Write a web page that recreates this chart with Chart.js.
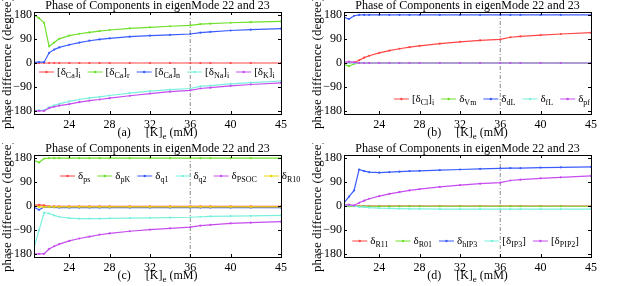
<!DOCTYPE html>
<html>
<head>
<meta charset="utf-8">
<script src="https://cdn.jsdelivr.net/npm/chart.js@4.4.0/dist/chart.umd.min.js"></script>
<style>
html, body { margin: 0; padding: 0; background: #fff; }
#wrap { position: relative; width: 621px; height: 286px; }
#wrap canvas { position: absolute; }
</style>
</head>
<body>
<div id="wrap">
  <canvas id="chartA" width="310" height="143" style="left:0;top:0"></canvas>
  <canvas id="chartB" width="310" height="143" style="left:310px;top:0"></canvas>
  <canvas id="chartC" width="310" height="143" style="left:0;top:143px"></canvas>
  <canvas id="chartD" width="310" height="143" style="left:310px;top:143px"></canvas>
</div>
<script>
// x values ([K]e in mM) and axis ticks
const kValues = [20.5, 21, 21.5, 22, 22.5, 23, 24, 25, 26, 27, 28, 30, 32, 34, 36, 37, 38, 40, 42, 45];
const xTickValues = [24, 28, 32, 36, 40, 45];
const yTickValues = [-180, -90, 0, 90, 180];
const markerK = 36;

const lineColors = ['#ff4646', '#6ee02a', '#3a5cff', '#7af0dc', '#c64cf0', '#ecd800'];
const chartTitle = 'Phase of Components in eigenMode 22 and 23';

// panel (a)
const namesA = ['[δ_{Ca}]_{i}', '[δ_{Ca}]_{r}', '[δ_{Ca}]_{n}', '[δ_{Na}]_{i}', '[δ_{K}]_{i}'];
const caI = [0, 0, 0, 0, 0, 0, 0, 0, 0, 0, 0, 0, 0, 0, 0, 0, 0, 0, 0, 0];
const caR = [180, 167, 150, 62, 76, 90, 102, 109, 114, 119, 123, 129, 133, 137, 140, 145, 147, 150, 152, 155];
const caN = [2, 3, 3, 38, 50, 58, 68, 76, 83, 88, 92, 98, 102, 105, 108, 113, 116, 121, 124, 128];
const naI = [-176, -176, -176, -165, -158, -152, -143, -136, -130, -126, -121, -112, -105, -99, -95, -87, -84, -78, -73, -67];
const kI = [-178, -178, -178, -168, -163, -159, -153, -146, -140, -136, -131, -122, -114, -107, -102, -95, -92, -85, -80, -74];

// panel (b)
const namesB = ['[δ_{Cl}]_{i}', 'δ_{Vm}', 'δ_{dL}', 'δ_{fL}', 'δ_{pf}'];
const clI = [0, 0, 2, 10, 20, 27, 38, 46, 53, 59, 64, 72, 79, 84, 88, 96, 99, 104, 108, 113];
const vm = [-5, -12, -3, 0, 0, 0, 0, 0, 0, 0, 0, 0, 0, 0, 0, 0, 0, 0, 0, 0];
const dL = [170, 164, 176, 179, 179, 179, 179, 179, 179, 179, 179, 179, 179, 179, 179, 179, 179, 179, 179, 179];
const fL = [0, 0, 0, 0, 0, 0, 0, 0, 0, 0, 0, 0, 0, 0, 0, 0, 0, 0, 0, 0];
const pf = [3, 5, 2, 0, 0, 0, 0, 0, 0, 0, 0, 0, 0, 0, 0, 0, 0, 0, 0, 0];

// panel (c)
const namesC = ['δ_{ps}', 'δ_{pK}', 'δ_{q1}', 'δ_{q2}', 'δ_{PSOC}', 'δ_{R10}'];
const ps = [2, 4, 2, -1, -1, -1, -1, -1, -1, -1, -1, -1, -1, -1, -1, -1, -1, -1, -1, -1];
const pK = [170, 162, 177, 178, 178, 178, 178, 178, 178, 178, 178, 178, 178, 178, 178, 178, 178, 178, 178, 178];
const q1 = [-5, -14, -4, -4, -5, -6, -6, -6, -6, -6, -6, -6, -6, -6, -6, -6, -6, -6, -6, -6];
const q2 = [-155, -90, -25, -28, -35, -40, -45, -47, -47, -47, -46, -45, -44, -43, -42, -40, -39, -38, -37, -35];
const psoc = [-178, -178, -178, -160, -150, -142, -130, -121, -114, -107, -102, -94, -88, -83, -79, -73, -70, -65, -62, -58];
const r10 = [0, -3, -3, -3, -3, -3, -3, -3, -3, -3, -3, -3, -3, -3, -3, -3, -3, -3, -3, -3];

// panel (d)
const namesD = ['δ_{R11}', 'δ_{R01}', 'δ_{hIP3}', '[δ_{IP3}]', '[δ_{PIP2}]'];
const r11 = [0, 0, 0, 0, 0, 0, 0, 0, 0, 0, 0, 0, 0, 0, 0, 0, 0, 0, 0, 0];
const r01 = [-1, -1, -1, -1, -1, -1, -1, -1, -1, -1, -1, -1, -1, -1, -1, -1, -1, -1, -1, -1];
const hIP3 = [12, 35, 58, 136, 130, 126, 124, 126, 128, 130, 131, 134, 136, 138, 140, 141, 141, 143, 144, 146];
const ip3 = [2, 2, 0, -3, -4, -6, -8, -9, -10, -11, -11, -12, -12, -12, -12, -12, -12, -12, -12, -12];
const pip2 = [3, 5, 2, 12, 20, 27, 37, 45, 52, 58, 63, 71, 78, 83, 87, 95, 98, 103, 107, 112];

const serif = '"Liberation Serif", "Times New Roman", serif';
Chart.defaults.font.family = serif;
Chart.defaults.color = '#000';

// split "x_{sub}" markup into normal / subscript pieces
function parseRich(str) {
    const parts = [];
    const re = /_\{([^}]*)\}|([^_]+)/g;
    let m;
    while ((m = re.exec(str)) !== null) {
        if (m[1] !== undefined) parts.push({ text: m[1], sub: true });
        else parts.push({ text: m[2], sub: false });
    }
    return parts;
}

function richWidth(ctx, parts, size, subSize) {
    let w = 0;
    parts.forEach(p => {
        ctx.font = `${p.sub ? subSize : size}px ${serif}`;
        w += ctx.measureText(p.text).width;
    });
    return w;
}

function drawRich(ctx, parts, x, y, size, subSize) {
    parts.forEach(p => {
        ctx.font = `${p.sub ? subSize : size}px ${serif}`;
        ctx.fillText(p.text, x, p.sub ? y + 3 : y);
        x += ctx.measureText(p.text).width;
    });
}

const matlabDecor = {
    id: 'matlabDecor',
    beforeDatasetsDraw(chart) {
        const { ctx, chartArea, scales } = chart;
        const px = scales.x.getPixelForValue(markerK);
        ctx.save();
        ctx.strokeStyle = '#8a8a8a';
        ctx.lineWidth = 1;
        ctx.setLineDash([4, 2, 1, 2]);
        ctx.beginPath();
        ctx.moveTo(px, chartArea.top);
        ctx.lineTo(px, chartArea.bottom);
        ctx.stroke();
        ctx.restore();
    },
    afterDraw(chart, args, opts) {
        const { ctx, chartArea: a, scales } = chart;
        ctx.save();
        // box and inward ticks
        ctx.strokeStyle = '#000';
        ctx.lineWidth = 1;
        ctx.strokeRect(a.left + 0.5, a.top + 0.5, a.right - a.left, a.bottom - a.top);
        ctx.beginPath();
        xTickValues.forEach(v => {
            const p = Math.round(scales.x.getPixelForValue(v)) + 0.5;
            ctx.moveTo(p, a.bottom); ctx.lineTo(p, a.bottom - 3);
            ctx.moveTo(p, a.top); ctx.lineTo(p, a.top + 3);
        });
        yTickValues.forEach(v => {
            const p = Math.round(scales.y.getPixelForValue(v)) + 0.5;
            ctx.moveTo(a.left, p); ctx.lineTo(a.left + 3, p);
            ctx.moveTo(a.right, p); ctx.lineTo(a.right - 3, p);
        });
        ctx.stroke();

        ctx.fillStyle = '#000';
        ctx.textBaseline = 'alphabetic';
        // title
        ctx.font = `12px ${serif}`;
        ctx.textAlign = 'center';
        ctx.fillText(chartTitle, (a.left + a.right) / 2, 9);

        // x label with panel tag
        ctx.textAlign = 'left';
        const xl = parseRich(opts.tag + '     [K]_{e} (mM)');
        const xw = richWidth(ctx, xl, 12, 9);
        drawRich(ctx, xl, (a.left + a.right) / 2 - xw / 2, 136, 12, 9);

        // legend
        const lp = opts.legendPos;
        const entries = opts.names.map(n => parseRich(n));
        const lineLen = 15, gapText = 3, gapEntry = 7;
        const widths = entries.map(e => lineLen + gapText + richWidth(ctx, e, 11, 8));
        const total = widths.reduce((s, w) => s + w, 0) + gapEntry * (entries.length - 1);
        let x = lp.align === 'right' ? lp.x - total : lp.x;
        entries.forEach((e, i) => {
            const col = lineColors[i];
            ctx.strokeStyle = col;
            ctx.fillStyle = col;
            ctx.beginPath();
            ctx.moveTo(x, lp.y); ctx.lineTo(x + lineLen, lp.y);
            ctx.stroke();
            ctx.beginPath();
            ctx.arc(x + lineLen / 2, lp.y, 1.2, 0, Math.PI * 2);
            ctx.fill();
            ctx.fillStyle = '#000';
            drawRich(ctx, e, x + lineLen + gapText, lp.y + 3, 11, 8);
            x += widths[i] + gapEntry;
        });
        ctx.restore();
    }
};

function makeChart(id, series, names, tag, legendPos) {
    const datasets = series.map((vals, i) => ({
        label: names[i],
        data: vals.map((v, j) => ({ x: kValues[j], y: v })),
        borderColor: lineColors[i],
        backgroundColor: lineColors[i],
        borderWidth: 1.2,
        pointRadius: 1.1,
        pointBorderWidth: 0,
        tension: 0,
        order: -i
    }));
    return new Chart(document.getElementById(id), {
        type: 'line',
        data: { datasets },
        options: {
            responsive: false,
            animation: false,
            layout: { padding: { top: 12, right: 29, left: 0, bottom: 0 } },
            plugins: {
                legend: { display: false },
                title: { display: false },
                tooltip: { enabled: false },
                matlabDecor: { tag, names, legendPos }
            },
            scales: {
                x: {
                    type: 'linear',
                    min: 20.5,
                    max: 45,
                    afterBuildTicks: s => { s.ticks = xTickValues.map(v => ({ value: v })); },
                    afterFit: s => { s.height = 29; },
                    ticks: { font: { size: 12 }, padding: 4, maxRotation: 0, autoSkip: false, color: '#000' },
                    grid: { drawOnChartArea: false, drawTicks: false },
                    border: { color: '#000' }
                },
                y: {
                    min: -190,
                    max: 190,
                    afterBuildTicks: s => { s.ticks = yTickValues.map(v => ({ value: v })); },
                    afterFit: s => { s.width = 34; },
                    ticks: {
                        font: { size: 12 }, padding: 2, color: '#000',
                        callback: v => (v < 0 ? '\u2212' + Math.abs(v) : String(v))
                    },
                    grid: { drawOnChartArea: false, drawTicks: false },
                    border: { color: '#000' },
                    title: {
                        display: true,
                        text: 'phase difference (degree)',
                        font: { size: 13 },
                        color: '#000',
                        padding: { top: 0, bottom: 0 }
                    }
                }
            }
        },
        plugins: [matlabDecor]
    });
}

makeChart('chartA', [caI, caR, caN, naI, kI], namesA, '(a)', { x: 39, y: 72, align: 'left' });
makeChart('chartB', [clI, vm, dL, fL, pf], namesB, '(b)', { x: 280, y: 99, align: 'right' });
makeChart('chartC', [ps, pK, q1, q2, psoc, r10], namesC, '(c)', { x: 60, y: 33, align: 'left' });
makeChart('chartD', [r11, r01, hIP3, ip3, pip2], namesD, '(d)', { x: 269, y: 98, align: 'right' });
</script>
</body>
</html>
